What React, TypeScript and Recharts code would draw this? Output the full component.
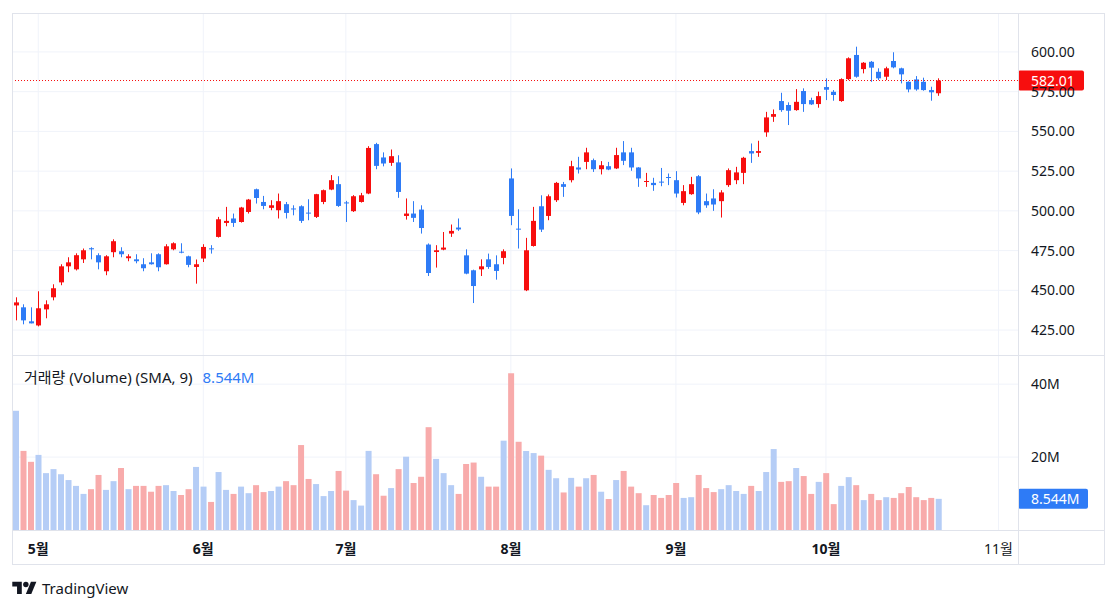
import React from "react"
import {
  ComposedChart,
  Bar,
  Cell,
  XAxis,
  YAxis,
  CartesianGrid,
  ReferenceLine,
} from "recharts"

// trading days shown on the chart (2024)
const dates = [
  "2024-04-26", "2024-04-29", "2024-04-30",
  "2024-05-01", "2024-05-02", "2024-05-03", "2024-05-06", "2024-05-07", "2024-05-08", "2024-05-09",
  "2024-05-10", "2024-05-13", "2024-05-14", "2024-05-15", "2024-05-16", "2024-05-17", "2024-05-20",
  "2024-05-21", "2024-05-22", "2024-05-23", "2024-05-24", "2024-05-28", "2024-05-29", "2024-05-30",
  "2024-05-31",
  "2024-06-03", "2024-06-04", "2024-06-05", "2024-06-06", "2024-06-07", "2024-06-10", "2024-06-11",
  "2024-06-12", "2024-06-13", "2024-06-14", "2024-06-17", "2024-06-18", "2024-06-20", "2024-06-21",
  "2024-06-24", "2024-06-25", "2024-06-26", "2024-06-27", "2024-06-28",
  "2024-07-01", "2024-07-02", "2024-07-03", "2024-07-05", "2024-07-08", "2024-07-09", "2024-07-10",
  "2024-07-11", "2024-07-12", "2024-07-15", "2024-07-16", "2024-07-17", "2024-07-18", "2024-07-19",
  "2024-07-22", "2024-07-23", "2024-07-24", "2024-07-25", "2024-07-26", "2024-07-29", "2024-07-30",
  "2024-07-31",
  "2024-08-01", "2024-08-02", "2024-08-05", "2024-08-06", "2024-08-07", "2024-08-08", "2024-08-09",
  "2024-08-12", "2024-08-13", "2024-08-14", "2024-08-15", "2024-08-16", "2024-08-19", "2024-08-20",
  "2024-08-21", "2024-08-22", "2024-08-23", "2024-08-26", "2024-08-27", "2024-08-28", "2024-08-29",
  "2024-08-30",
  "2024-09-03", "2024-09-04", "2024-09-05", "2024-09-06", "2024-09-09", "2024-09-10", "2024-09-11",
  "2024-09-12", "2024-09-13", "2024-09-16", "2024-09-17", "2024-09-18", "2024-09-19", "2024-09-20",
  "2024-09-23", "2024-09-24", "2024-09-25", "2024-09-26", "2024-09-27", "2024-09-30",
  "2024-10-01", "2024-10-02", "2024-10-03", "2024-10-04", "2024-10-07", "2024-10-08", "2024-10-09",
  "2024-10-10", "2024-10-11", "2024-10-14", "2024-10-15", "2024-10-16", "2024-10-17", "2024-10-18",
  "2024-10-21", "2024-10-22",
]

// empty slots to the right of the last bar
const futureDates = [
  "2024-10-23", "2024-10-24", "2024-10-25", "2024-10-28", "2024-10-29", "2024-10-30", "2024-10-31",
  "2024-11-01",
]

const opens = [
  440.5, 439.3, 430.5, 427.9, 438.0, 445.6, 455.0, 465.1, 463.2, 469.5,
  476.5, 472.1, 462.0, 474.0, 474.6, 470.2, 469.5, 466.4, 467.6, 472.7,
  466.4, 475.8, 474.3, 471.4, 464.7, 470.0, 476.4, 483.6, 492.4, 495.2,
  493.0, 499.3, 513.6, 505.6, 501.9, 500.4, 504.2, 501.5, 502.9, 498.9,
  496.2, 505.6, 513.4, 516.8, 505.3, 499.8, 505.6, 510.9, 542.0, 533.6,
  530.2, 530.5, 496.8, 498.3, 500.8, 478.8, 474.1, 475.6, 485.7, 489.5,
  472.0, 462.6, 463.2, 469.5, 466.4, 470.4, 520.4, 488.8, 450.0, 477.9,
  502.9, 496.8, 506.7, 516.8, 519.3, 527.3, 530.8, 531.9, 526.2, 528.1,
  526.7, 536.8, 536.8, 527.3, 518.4, 517.6, 518.4, 521.3, 519.3, 505.0,
  510.5, 521.8, 506.1, 507.8, 506.1, 516.2, 519.3, 523.9, 537.6, 536.5,
  549.4, 559.2, 569.1, 566.6, 563.4, 575.4, 569.7, 567.2, 577.9, 574.9,
  569.1, 582.9, 598.1, 589.2, 593.8, 587.5, 584.4, 594.3, 589.7, 581.2,
  582.7, 581.2, 576.0, 574.0,
]

const highs = [
  445.6, 441.2, 439.3, 449.4, 443.7, 453.8, 466.4, 470.8, 473.3, 476.3,
  477.1, 473.3, 472.1, 482.1, 477.1, 472.7, 472.7, 470.2, 473.3, 473.3,
  479.0, 480.2, 479.6, 471.8, 469.4, 479.0, 478.4, 496.2, 502.5, 498.3,
  502.5, 507.5, 514.0, 509.4, 506.7, 510.9, 505.6, 503.5, 503.5, 507.3,
  510.7, 513.4, 522.5, 521.8, 506.3, 509.9, 511.3, 540.7, 542.8, 536.8,
  538.6, 535.0, 507.8, 506.1, 503.5, 479.5, 478.4, 486.7, 491.4, 495.2,
  475.8, 463.0, 469.5, 473.1, 472.0, 475.8, 526.7, 501.0, 483.0, 502.5,
  509.8, 510.3, 518.2, 518.2, 531.5, 534.0, 539.7, 532.9, 531.3, 530.8,
  539.7, 543.9, 539.7, 527.5, 523.9, 520.8, 527.0, 523.5, 525.0, 516.2,
  521.4, 522.5, 510.9, 513.6, 513.0, 526.7, 527.7, 534.0, 542.4, 544.1,
  562.3, 563.8, 574.3, 568.3, 576.6, 577.1, 571.2, 575.0, 583.4, 576.0,
  583.4, 596.6, 603.3, 593.6, 594.3, 589.7, 590.7, 599.8, 590.1, 581.5,
  584.8, 583.8, 578.1, 583.4,
]

const lows = [
  431.1, 428.6, 429.2, 427.3, 432.4, 443.7, 453.2, 461.4, 462.5, 467.2,
  469.5, 463.2, 459.5, 470.8, 470.8, 468.3, 467.0, 462.0, 466.2, 462.0,
  466.2, 475.2, 473.3, 464.5, 454.2, 467.8, 473.1, 483.2, 490.3, 489.9,
  492.6, 498.3, 504.6, 501.0, 500.4, 495.2, 495.2, 497.2, 492.4, 494.1,
  495.5, 504.2, 513.0, 502.5, 493.0, 499.3, 505.2, 510.5, 526.2, 528.0,
  528.3, 508.2, 494.5, 493.0, 485.7, 459.0, 464.3, 475.2, 483.6, 487.4,
  460.1, 442.0, 459.0, 463.5, 456.7, 466.4, 491.0, 476.3, 449.5, 477.5,
  486.7, 494.1, 505.6, 508.8, 517.9, 523.5, 526.2, 524.5, 522.9, 525.6,
  526.3, 528.8, 525.2, 515.1, 515.1, 512.6, 515.5, 516.2, 508.4, 503.5,
  510.1, 497.9, 501.9, 500.0, 495.8, 515.1, 516.8, 516.8, 530.2, 534.0,
  546.6, 556.0, 562.3, 554.0, 563.0, 562.3, 566.6, 564.9, 569.7, 569.3,
  568.6, 582.3, 583.8, 586.5, 581.2, 582.3, 582.3, 589.7, 580.2, 574.6,
  575.6, 575.6, 569.3, 572.4,
]

const closes = [
  442.4, 431.1, 429.2, 438.7, 441.2, 451.3, 465.1, 467.6, 472.1, 475.2,
  475.8, 467.6, 471.4, 480.9, 472.7, 471.4, 468.3, 463.9, 466.4, 464.5,
  477.7, 479.6, 473.8, 466.0, 466.4, 477.3, 476.0, 494.7, 493.7, 492.4,
  502.1, 507.1, 508.1, 503.1, 503.5, 506.1, 498.7, 500.9, 493.7, 498.5,
  510.5, 513.0, 519.3, 503.1, 504.7, 509.2, 509.8, 539.6, 528.3, 529.8,
  534.4, 511.9, 498.3, 495.6, 489.2, 460.9, 475.2, 476.9, 487.4, 488.3,
  460.5, 452.7, 465.1, 464.7, 462.2, 474.6, 496.8, 488.2, 475.2, 493.7,
  488.2, 509.2, 517.6, 515.1, 528.1, 526.0, 536.8, 526.2, 528.7, 526.0,
  535.1, 531.5, 527.3, 520.4, 518.8, 516.2, 518.0, 521.0, 510.9, 512.4,
  516.8, 499.0, 503.5, 504.0, 511.6, 525.6, 524.2, 533.4, 536.1, 537.6,
  558.8, 560.9, 563.4, 563.0, 568.6, 567.2, 567.0, 572.2, 576.2, 572.9,
  582.9, 596.0, 584.4, 593.2, 590.1, 583.4, 589.7, 590.3, 585.9, 576.4,
  576.4, 576.0, 574.6, 582.01,
]

// volume in millions
const volumes = [
  32.7, 21.7, 18.7, 20.6, 15.6, 16.7, 15.3, 13.7, 12.1, 9.9,
  11.2, 15.1, 11.0, 13.4, 17.0, 11.2, 12.1, 12.1, 10.5, 12.1,
  12.3, 10.7, 9.6, 11.2, 17.3, 11.9, 7.7, 15.9, 11.0, 9.9,
  11.9, 10.1, 12.3, 10.4, 10.7, 11.9, 13.4, 12.3, 23.3, 14.0,
  12.6, 9.3, 10.7, 16.2, 10.8, 8.2, 6.7, 21.7, 15.3, 9.4,
  11.5, 16.7, 20.1, 12.9, 14.6, 28.2, 19.5, 15.6, 12.3, 9.9,
  18.1, 18.5, 14.6, 11.9, 11.9, 24.5, 43.0, 24.2, 21.7, 21.1,
  20.4, 16.5, 14.2, 10.3, 14.3, 11.9, 14.2, 15.1, 10.5, 8.5,
  13.7, 16.2, 11.9, 10.1, 6.8, 9.6, 8.8, 9.6, 12.9, 8.8,
  9.0, 15.1, 11.5, 10.4, 11.2, 12.3, 10.7, 9.9, 12.1, 10.7,
  15.9, 22.2, 13.2, 13.4, 17.0, 14.8, 9.9, 13.2, 15.6, 7.1,
  12.1, 14.5, 12.3, 8.2, 9.9, 8.2, 9.0, 8.8, 10.1, 11.8,
  9.0, 8.2, 8.8, 8.544,
]

const priceTicks = [425, 450, 475, 500, 525, 550, 575, 600]
const volumeTicks = [20, 40]

const RED = "#f70e0e"
const BLUE = "#2e7bf6"
const VOL_RED = "#f8abab"
const VOL_BLUE = "#b5cdf6"
const GRID = "#f0f3fa"
const FRAME = "#e0e3eb"
const TEXT = "#131722"
const FONT = '"Noto Sans", "Noto Sans CJK KR", sans-serif'

const X_DOMAIN: [number, number] = [-0.5, 133.6]

const bars = dates.map((date, i) => ({
  i,
  date,
  open: opens[i],
  high: highs[i],
  low: lows[i],
  close: closes[i],
  volume: volumes[i],
}))

const allDates = [...dates, ...futureDates]
const monthTicks = allDates
  .map((d, i) => ({ d, i }))
  .filter(({ d, i }) => i > 0 && d.slice(5, 7) !== allDates[i - 1].slice(5, 7))
  .map(({ d, i }) => ({ i, label: `${Number(d.slice(5, 7))}월`, past: i < dates.length }))
const monthTickIdx = monthTicks.map((m) => m.i)

const last = bars[bars.length - 1]

function Candle(props: any) {
  const { x, y, width, height, payload } = props
  if (!payload) return null
  const { open, close, high, low } = payload
  const color = close >= open ? RED : BLUE
  const k = high > low ? height / (high - low) : 0
  const cx = Math.round(x + width / 2) + 0.5
  const top = y + (high - Math.max(open, close)) * k
  const h = Math.max(1, Math.abs(close - open) * k)
  return (
    <g>
      <line x1={cx} x2={cx} y1={y} y2={y + height} stroke={color} strokeWidth={1} />
      <rect x={cx - 2.5} y={top} width={5} height={h} fill={color} />
    </g>
  )
}

function AxisTag({ viewBox, text, fill, w }: any) {
  if (!viewBox) return null
  const left = viewBox.x + viewBox.width
  const y = viewBox.y
  return (
    <g>
      <rect x={left} y={y - 10} width={w} height={20} rx={2} fill={fill} />
      <text x={left + 13} y={y} dy="0.36em" fill="#fff" fontSize={14} fontFamily={FONT}>
        {text}
      </text>
    </g>
  )
}

function MonthTick({ x, y, payload }: any) {
  const t = monthTicks.find((m) => m.i === payload.value)
  if (!t) return null
  return (
    <text
      x={x}
      y={y}
      dy={22}
      textAnchor="middle"
      fill={TEXT}
      fontSize={14}
      fontWeight={t.past ? 700 : 400}
      fontFamily={FONT}
    >
      {t.label}
    </text>
  )
}

const line = (left: number, top: number, width: number, height: number): React.CSSProperties => ({
  position: "absolute",
  left,
  top,
  width,
  height,
  background: FRAME,
})

export default function App() {
  return (
    <div style={{ position: "relative", width: 1102, height: 593, fontFamily: FONT, color: TEXT }}>
      {/* price pane */}
      <div style={{ position: "absolute", left: 4, top: 5 }}>
        <ComposedChart width={1093} height={342} data={bars} margin={{ top: 0, right: 0, bottom: 0, left: 0 }}>
          <CartesianGrid stroke={GRID} horizontalValues={priceTicks} verticalValues={monthTickIdx} />
          <XAxis type="number" dataKey="i" domain={X_DOMAIN} allowDataOverflow hide />
          <YAxis
            orientation="right"
            width={87}
            type="number"
            domain={[409.3, 624.5]}
            allowDataOverflow
            ticks={priceTicks}
            interval={0}
            tickFormatter={(v: number) => v.toFixed(2)}
            tick={{ fill: TEXT, fontSize: 14, fontFamily: FONT }}
            tickLine={false}
            axisLine={false}
            tickSize={0}
            tickMargin={13}
          />
          <Bar
            dataKey={(d: any) => [d.low, d.high]}
            barSize={5}
            shape={(p: any) => <Candle {...p} />}
            isAnimationActive={false}
          />
          <ReferenceLine
            y={last.close}
            stroke={RED}
            strokeDasharray="1 2"
            label={<AxisTag text={last.close.toFixed(2)} fill={RED} w={66} />}
          />
        </ComposedChart>
      </div>

      {/* volume pane */}
      <div style={{ position: "absolute", left: 4, top: 347 }}>
        <ComposedChart width={1093} height={210} data={bars} margin={{ top: 0, right: 0, bottom: 0, left: 0 }}>
          <CartesianGrid stroke={GRID} horizontalValues={volumeTicks} verticalValues={monthTickIdx} />
          <XAxis
            type="number"
            dataKey="i"
            domain={X_DOMAIN}
            allowDataOverflow
            ticks={monthTickIdx}
            interval={0}
            tick={<MonthTick />}
            tickLine={false}
            axisLine={false}
            tickSize={0}
            height={35}
          />
          <YAxis
            orientation="right"
            width={87}
            type="number"
            domain={[0, 48]}
            allowDataOverflow
            ticks={volumeTicks}
            interval={0}
            tickFormatter={(v: number) => `${v}M`}
            tick={{ fill: TEXT, fontSize: 14, fontFamily: FONT }}
            tickLine={false}
            axisLine={false}
            tickSize={0}
            tickMargin={13}
          />
          <Bar dataKey="volume" barSize={6} isAnimationActive={false}>
            {bars.map((b) => (
              // the volume pane uses the opposite palette to the candles
              <Cell key={b.date} fill={b.close >= b.open ? VOL_BLUE : VOL_RED} />
            ))}
          </Bar>
          <ReferenceLine
            y={last.volume}
            stroke="none"
            strokeOpacity={0}
            label={<AxisTag text={`${last.volume.toFixed(3)}M`} fill={BLUE} w={70} />}
          />
        </ComposedChart>
      </div>

      <div style={{ position: "absolute", left: 16, top: 359, fontSize: 15, lineHeight: "20px", whiteSpace: "nowrap" }}>
        거래량 (Volume) (SMA, 9)
        <span style={{ color: BLUE, marginLeft: 10 }}>{`${last.volume.toFixed(3)}M`}</span>
      </div>

      {/* frame */}
      <div style={{ ...line(4, 5, 1093, 552), background: "none", border: `1px solid ${FRAME}`, boxSizing: "border-box" }} />
      <div style={line(1010, 5, 1, 552)} />
      <div style={line(4, 347, 1093, 1)} />
      <div style={line(4, 522, 1093, 1)} />

      {/* watermark */}
      <div style={{ position: "absolute", left: 4, top: 570, display: "flex", alignItems: "center", gap: 5 }}>
        <svg width={25} height={19} viewBox="0 0 36 28">
          <path d="M14 22H7V11H0V4h14v18z" fill={TEXT} />
          <circle cx={20} cy={8} r={4} fill={TEXT} />
          <path d="M28 22h-8l7.5-18h8L28 22z" fill={TEXT} />
        </svg>
        <span style={{ fontSize: 15, color: TEXT }}>TradingView</span>
      </div>
    </div>
  )
}
